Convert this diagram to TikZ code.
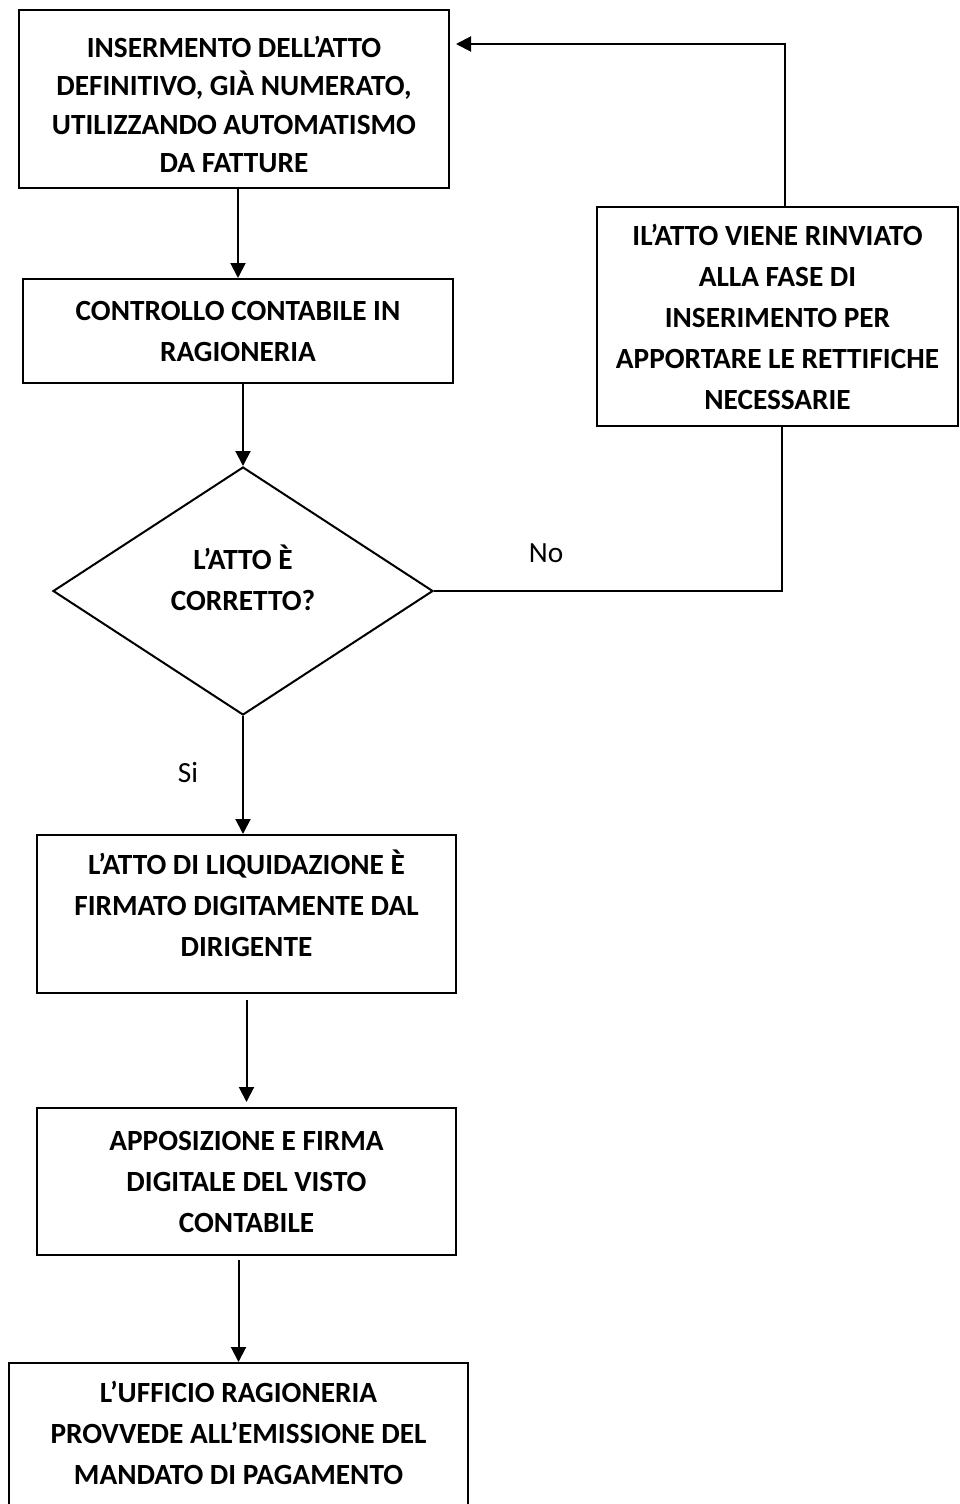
\documentclass[tikz,border=0pt]{standalone}
\usepackage{fontspec}
\setmainfont{Carlito}
\usetikzlibrary{arrows.meta,shapes.geometric}
% invisible struts to move the text inside a box
\newcommand{\padbelow}[1]{\rule[-#1]{0pt}{#1}}
\newcommand{\padabove}[1]{\rule{0pt}{#1}}

\begin{document}
\begin{tikzpicture}[x=1pt, y=-1pt, line width=2pt, arrows={-Triangle[length=15pt,width=15pt]},
	box/.style={draw, rectangle, align=center, inner sep=0pt, font=\fontsize{29.3}{41}\selectfont\bfseries},
	choice/.style={draw, diamond, align=center, inner sep=0pt, minimum width=380pt, minimum height=248pt, font=\fontsize{29.3}{41}\selectfont\bfseries},
	tag/.style={font=\fontsize{29.3}{41}\selectfont}]
	\useasboundingbox (0,0) rectangle (959,1504);

	\node[box, minimum width=430pt, minimum height=178pt, font=\fontsize{29.3}{38.5}\selectfont\bfseries] (A) at (234,99) {\padabove{32pt}INSERMENTO DELL’ATTO\\DEFINITIVO, GIÀ NUMERATO,\\UTILIZZANDO AUTOMATISMO\\DA FATTURE};
	\node[box, minimum width=430pt, minimum height=104pt] (B) at (238,331) {CONTROLLO CONTABILE IN\\RAGIONERIA};
	\node[choice] (C) at (243,591) {L’ATTO È\\CORRETTO?\padbelow{26pt}};
	\node[box, minimum width=361pt, minimum height=219pt] (R) at (777.5,316.5) {IL’ATTO VIENE RINVIATO\\ALLA FASE DI\\INSERIMENTO PER\\APPORTARE LE RETTIFICHE\\NECESSARIE};
	\node[box, minimum width=419pt, minimum height=158pt] (D) at (246.5,914) {L’ATTO DI LIQUIDAZIONE È\\FIRMATO DIGITAMENTE DAL\\DIRIGENTE\padbelow{22pt}};
	\node[box, minimum width=419pt, minimum height=147pt] (E) at (246.5,1181.5) {APPOSIZIONE E FIRMA\\DIGITALE DEL VISTO\\CONTABILE};
	\node[box, minimum width=459pt, minimum height=156pt] (F) at (238.5,1441) {L’UFFICIO RAGIONERIA\\PROVVEDE ALL’EMISSIONE DEL\\MANDATO DI PAGAMENTO\padbelow{16pt}};

	\node[tag] (no) at (546,553) {No};
	\node[tag] (si) at (188,773) {Si};

	\draw (A.south -| B.north) -- (B.north);
	\draw (B.south -| C.north) -- (C.north);
	\draw[-] (C.east) -| ([xshift=4pt]R.south);
	\draw ([xshift=7pt]R.north) |- ([xshift=6pt,yshift=55pt]A.east);
	\draw (C.south) -- (C.south |- D.north);
	\draw[shorten <=6pt, shorten >=5pt] (D.south) -- (D.south |- E.north);
	\draw[shorten <=4pt] (E.south -| F.north) -- (F.north);
\end{tikzpicture}
\end{document}
